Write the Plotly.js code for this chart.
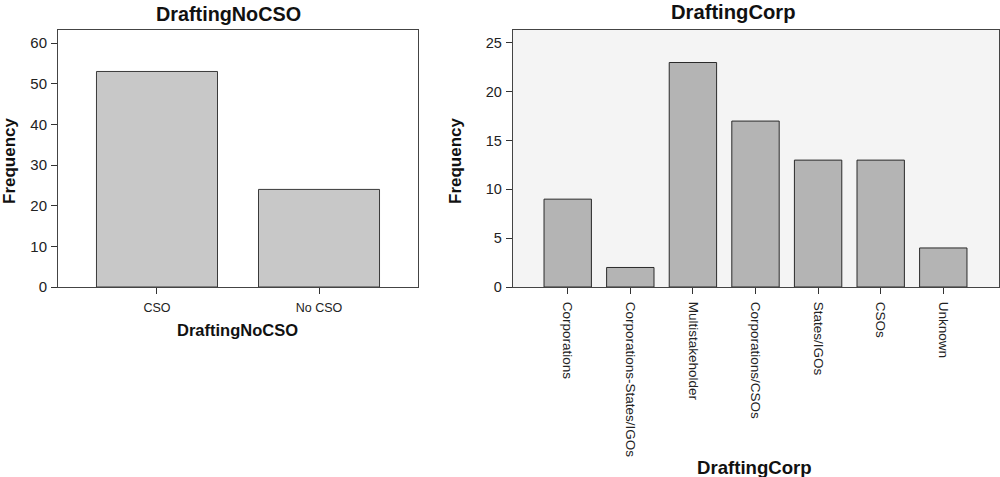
<!DOCTYPE html>
<html><head><meta charset="utf-8">
<script src="https://cdn.plot.ly/plotly-3.0.1.min.js"></script>
<style>body{margin:0;background:#fff}#c{width:1000px;height:477px}</style>
</head><body><div id="c"></div>
<script>
const catsA = ["CSO", "No CSO"];
const valsA = [53, 24];
const catsB = ["Corporations", "Corporations-States/IGOs", "Multistakeholder", "Corporations/CSOs", "States/IGOs", "CSOs", "Unknown"];
const valsB = [9, 2, 23, 17, 13, 13, 4];
const titleA = "DraftingNoCSO";
const titleB = "DraftingCorp";
const yTitle = "Frequency";

const F = "Liberation Sans, Arial, sans-serif";
const data = [
  {type:"bar", x:catsA, y:valsA, xaxis:"x", yaxis:"y", width:0.747,
   marker:{color:"#c8c8c8", line:{color:"#3a3a3a", width:1}}, hoverinfo:"x+y"},
  {type:"bar", x:catsB, y:valsB, xaxis:"x2", yaxis:"y2", width:0.757,
   marker:{color:"#b4b4b4", line:{color:"#2a2a2a", width:1}}, hoverinfo:"x+y"}
];
const axBase = {showgrid:false, zeroline:false, showline:true, linecolor:"#444", linewidth:1,
  mirror:true, ticks:"outside", ticklen:6, tickcolor:"#333", tickfont:{family:F, size:12.5, color:"#222"}};
const yd = [1-287/477, 1-30/477];
const layout = {
  width:1000, height:477, margin:{l:0,r:0,t:0,b:0}, showlegend:false,
  paper_bgcolor:"#fff", font:{family:F},
  xaxis: Object.assign({}, axBase, {domain:[58/1000, 418/1000], anchor:"y", range:[-0.611, 1.611], ticklabelstandoff:3}),
  yaxis: Object.assign({}, axBase, {domain:yd, anchor:"x", range:[0, 63.2], dtick:10, tickfont:{family:F, size:15, color:"#222"}, ticklabelstandoff:1}),
  xaxis2: Object.assign({}, axBase, {domain:[512.7/1000, 999/1000], anchor:"y2", range:[-0.879, 6.89], tickangle:90, tickfont:{family:F, size:13.5, color:"#222"}, ticklabelstandoff:5}),
  yaxis2: Object.assign({}, axBase, {domain:yd, anchor:"x2", range:[0, 26.33], dtick:5, tickfont:{family:F, size:14.5, color:"#222"}, ticklabelstandoff:1}),
  shapes:[
    {type:"rect", xref:"x2 domain", yref:"y2 domain", x0:0, x1:1, y0:0, y1:1, fillcolor:"#f4f4f4", line:{width:0}, layer:"below"}
  ],
  annotations:[
    {text:"<b>"+titleA+"</b>", xref:"paper", yref:"paper", x:228/1000, y:1-14/477, showarrow:false, font:{family:F, size:19.8, color:"#111"}, xanchor:"center", yanchor:"middle"},
    {text:"<b>"+titleB+"</b>", xref:"paper", yref:"paper", x:733/1000, y:1-12/477, showarrow:false, font:{family:F, size:20.2, color:"#111"}, xanchor:"center", yanchor:"middle"},
    {text:"<b>"+yTitle+"</b>", xref:"paper", yref:"paper", x:9/1000, y:1-161/477, showarrow:false, textangle:-90, font:{family:F, size:17, color:"#111"}, xanchor:"center", yanchor:"middle"},
    {text:"<b>"+yTitle+"</b>", xref:"paper", yref:"paper", x:455/1000, y:1-161/477, showarrow:false, textangle:-90, font:{family:F, size:17, color:"#111"}, xanchor:"center", yanchor:"middle"},
    {text:"<b>"+titleA+"</b>", xref:"paper", yref:"paper", x:237.5/1000, y:1-330/477, showarrow:false, font:{family:F, size:16.5, color:"#111"}, xanchor:"center", yanchor:"middle"},
    {text:"<b>"+titleB+"</b>", xref:"paper", yref:"paper", x:754/1000, y:1-467/477, showarrow:false, font:{family:F, size:18.6, color:"#111"}, xanchor:"center", yanchor:"middle"}
  ]
};
Plotly.newPlot("c", data, layout, {displayModeBar:false, staticPlot:true});
</script></body></html>
